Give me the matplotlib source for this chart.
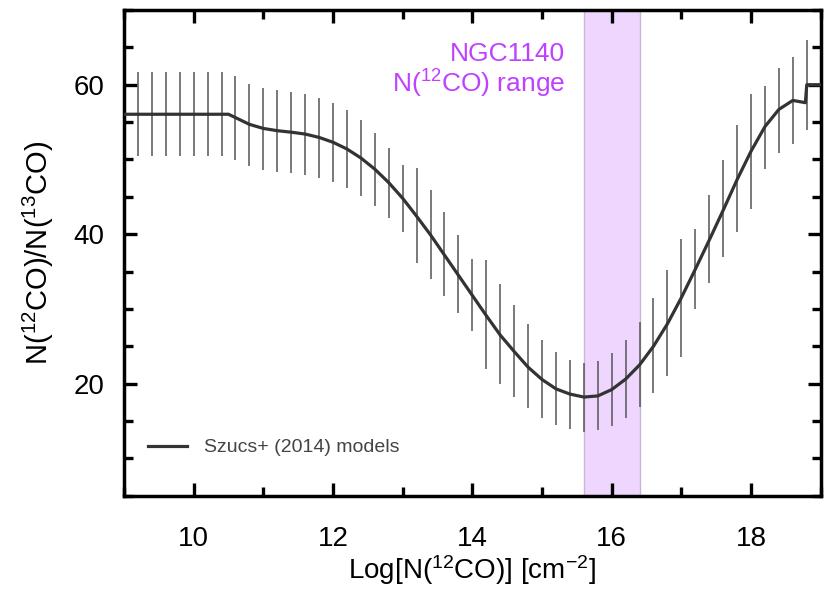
import matplotlib
matplotlib.use('Agg')
import matplotlib.pyplot as plt
from matplotlib.ticker import MultipleLocator

plt.rcParams['font.family'] = ['Liberation Sans', 'DejaVu Sans']
plt.rcParams['mathtext.fontset'] = 'custom'
plt.rcParams['mathtext.rm'] = 'Liberation Sans'
plt.rcParams['mathtext.it'] = 'Liberation Sans:italic'

# Szucs+ (2014) model curve
model_logN = [9.0, 9.2, 9.4, 9.6, 9.8, 10.0, 10.2, 10.4, 10.5, 10.6, 10.8,
              11.0, 11.2, 11.4, 11.6, 11.8, 12.0, 12.2, 12.4, 12.6, 12.8,
              13.0, 13.2, 13.4, 13.6, 13.8, 14.0, 14.2, 14.4, 14.6, 14.8,
              15.0, 15.2, 15.4, 15.6, 15.8, 16.0, 16.2, 16.4, 16.6, 16.8,
              17.0, 17.2, 17.4, 17.6, 17.8, 18.0, 18.2, 18.4, 18.6, 18.78,
              18.8, 19.0]
model_ratio = [56.05, 56.05, 56.05, 56.05, 56.05, 56.05, 56.05, 56.05, 56.05, 55.6, 54.7,
               54.15, 53.85, 53.65, 53.4, 52.95, 52.3, 51.4, 50.2, 48.7, 46.9,
               44.8, 42.4, 39.9, 37.2, 34.5, 31.8, 29.1, 26.5, 24.3, 22.2,
               20.55, 19.3, 18.6, 18.2, 18.35, 19.2, 20.6, 22.5, 25.0, 28.0,
               31.5, 35.3, 39.2, 43.2, 47.3, 51.1, 54.4, 56.7, 57.9, 57.6,
               60.0, 60.0]

# model spread
bar_logN = [9.2, 9.4, 9.6, 9.8, 10.0, 10.2, 10.4, 10.6, 10.8, 11.0,
            11.2, 11.4, 11.6, 11.8, 12.0, 12.2, 12.4, 12.6, 12.8, 13.0,
            13.2, 13.4, 13.6, 13.8, 14.0, 14.2, 14.4, 14.6, 14.8, 15.0,
            15.2, 15.4, 15.6, 15.8, 16.0, 16.2, 16.4, 16.6, 16.8, 17.0,
            17.2, 17.4, 17.6, 17.8, 18.0, 18.2, 18.4, 18.6, 18.8]
bar_low = [50.42, 50.42, 50.42, 50.42, 50.42, 50.42, 50.42, 49.98, 49.18, 48.64,
           48.38, 48.19, 47.98, 47.58, 47.0, 46.19, 45.12, 43.74, 42.14, 40.31,
           36.09, 33.95, 31.72, 29.41, 27.04, 21.92, 19.96, 18.26, 16.71, 15.42,
           14.44, 13.91, 13.59, 13.81, 14.35, 15.38, 16.85, 18.8, 21.03, 23.6,
           30.0, 33.41, 36.89, 40.31, 43.43, 48.78, 50.92, 52.02, 53.99]
bar_high = [61.68, 61.68, 61.68, 61.68, 61.68, 61.68, 61.68, 61.15, 60.13, 59.6,
            59.24, 59.0, 58.75, 58.26, 57.54, 56.57, 55.23, 53.59, 51.58, 49.31,
            48.86, 45.97, 42.98, 39.83, 36.7, 36.53, 33.32, 30.47, 27.94, 25.78,
            24.17, 23.13, 22.8, 23.07, 24.1, 25.84, 28.24, 31.41, 35.19, 39.42,
            40.63, 45.3, 49.98, 54.56, 58.8, 59.77, 62.27, 63.69, 66.0]

ngc_range = (15.6, 16.4)

fig = plt.figure(figsize=(8.3, 5.93), dpi=100)
ax = fig.add_axes([0.1494, 0.1641, 0.8394, 0.819])

ax.axvspan(ngc_range[0], ngc_range[1], facecolor='#efd6fe', edgecolor='#c8b6d6', lw=1, zorder=0)
ax.vlines(bar_logN, bar_low, bar_high, color='#555555', lw=1.1, zorder=2)
ax.plot(model_logN, model_ratio, color='#333333', lw=2.3, zorder=3, label='Szucs+ (2014) models')

ax.text(15.33, 58.97, 'NGC1140\n' + r'N($^{12}$CO) range', color='#c040ff', fontsize=19,
        ha='right', va='baseline', multialignment='right', linespacing=1.05)

ax.set_xlim(9, 19)
ax.set_ylim(5, 70)
ax.xaxis.set_major_locator(MultipleLocator(2))
ax.xaxis.set_minor_locator(MultipleLocator(1))
ax.yaxis.set_major_locator(MultipleLocator(20))
ax.yaxis.set_minor_locator(MultipleLocator(5))
ax.tick_params(which='both', direction='in', top=True, right=True, width=2.4, labelsize=20)
ax.tick_params(axis='x', which='both', pad=22)
ax.tick_params(axis='y', which='both', pad=14)
ax.tick_params(which='major', length=9.5)
ax.tick_params(which='minor', length=6.5)
for s in ax.spines.values():
    s.set_linewidth(2.5)

ax.set_xlabel(r'Log[N($^{12}$CO)] [cm$^{-2}$]', fontsize=20, labelpad=1)
ax.set_ylabel(r'N($^{12}$CO)/N($^{13}$CO)', fontsize=21, labelpad=13)

leg = ax.legend(loc='lower left', bbox_to_anchor=(0.01, 0.045), frameon=False, fontsize=14,
                handlelength=2.0, handletextpad=0.85)
for t in leg.get_texts():
    t.set_color('#444444')

fig.savefig('out.png', dpi=100)
